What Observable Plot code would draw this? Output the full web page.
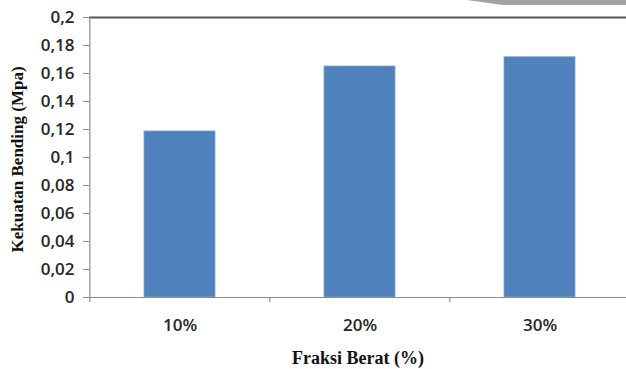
<!DOCTYPE html>
<html>
<head>
<meta charset="utf-8">
<script src="https://cdn.jsdelivr.net/npm/d3@7"></script>
<script src="https://cdn.jsdelivr.net/npm/@observablehq/plot@0.6"></script>
<style>
  html, body { margin: 0; padding: 0; background: #fff; }
  #wrap { position: relative; width: 626px; height: 369px; overflow: hidden; }
  #shade { position: absolute; top: 0; left: 467px; width: 159px; height: 5px; background: #a3a3a3;
           clip-path: polygon(0 0, 100% 0, 100% 100%, 36px 100%); }
</style>
</head>
<body>
<div id="wrap"><div id="shade"></div></div>
<script>
const categories = ["10%", "20%", "30%"];
const values = [0.1186, 0.165, 0.1716];
const yTicks = [0, 0.02, 0.04, 0.06, 0.08, 0.1, 0.12, 0.14, 0.16, 0.18, 0.2];
const yTitle = "Kekuatan Bending (Mpa)";
const xTitle = "Fraksi Berat (%)";

(function () {
const data = categories.map((c, i) => ({cat: c, val: values[i]}));
const W = 626, H = 369, mLeft = 89, xRight = 630, mTop = 17, mBottom = 72;
const step = (xRight - mLeft) / categories.length;
const fmt = d => String(d).replace(".", ",");
const serif = "'Liberation Serif', 'Times New Roman', serif";

const chart = Plot.plot({
  width: W, height: H,
  marginLeft: mLeft, marginRight: 0, marginTop: mTop, marginBottom: mBottom,
  style: {fontFamily: "'Open Sans', sans-serif", fontSize: "17px", fontWeight: 600, color: "#262626", background: "transparent"},
  x: {type: "band", domain: categories, range: [mLeft, xRight], paddingInner: 0.607, paddingOuter: 0.3035},
  y: {domain: [0, 0.2]},
  marks: [
    Plot.barY(data, {x: "cat", y: "val", fill: "#4f81bd", stroke: "#7ea3d3", strokeWidth: 0.8}),
    Plot.ruleY([0], {stroke: "#8c8c8c", strokeWidth: 1.2}),
    Plot.ruleY([0.2], {stroke: "#555", strokeWidth: 2}),
    Plot.ruleX(categories, {x: d => d, dx: -step / 2, y1: 0, y2: 0, insetBottom: -5, stroke: "#8c8c8c", strokeWidth: 1.2}),
    Plot.ruleX([categories[0]], {x: d => d, dx: -step / 2, y1: 0, y2: 0.2, stroke: "#8c8c8c", strokeWidth: 1.2}),
    Plot.axisY({ticks: yTicks, tickFormat: fmt, tickSize: 6, tickPadding: 9, stroke: "#8c8c8c", fill: "#262626", fontSize: 17, label: null}),
    Plot.axisX({tickSize: 0, tickPadding: 21, fill: "#262626", fontSize: 17, label: null}),
    Plot.text([yTitle], {frameAnchor: "left", textAnchor: "middle", lineAnchor: "middle", dx: -72, dy: 2, rotate: -90, fontFamily: serif, fontWeight: "bold", fontSize: 17, fill: "#111"}),
    Plot.text([xTitle], {frameAnchor: "bottom", textAnchor: "middle", lineAnchor: "middle", dy: 61, fontFamily: serif, fontWeight: "bold", fontSize: 18, fill: "#111"})
  ]
});
document.getElementById("wrap").appendChild(chart);
})();
</script>
</body>
</html>
